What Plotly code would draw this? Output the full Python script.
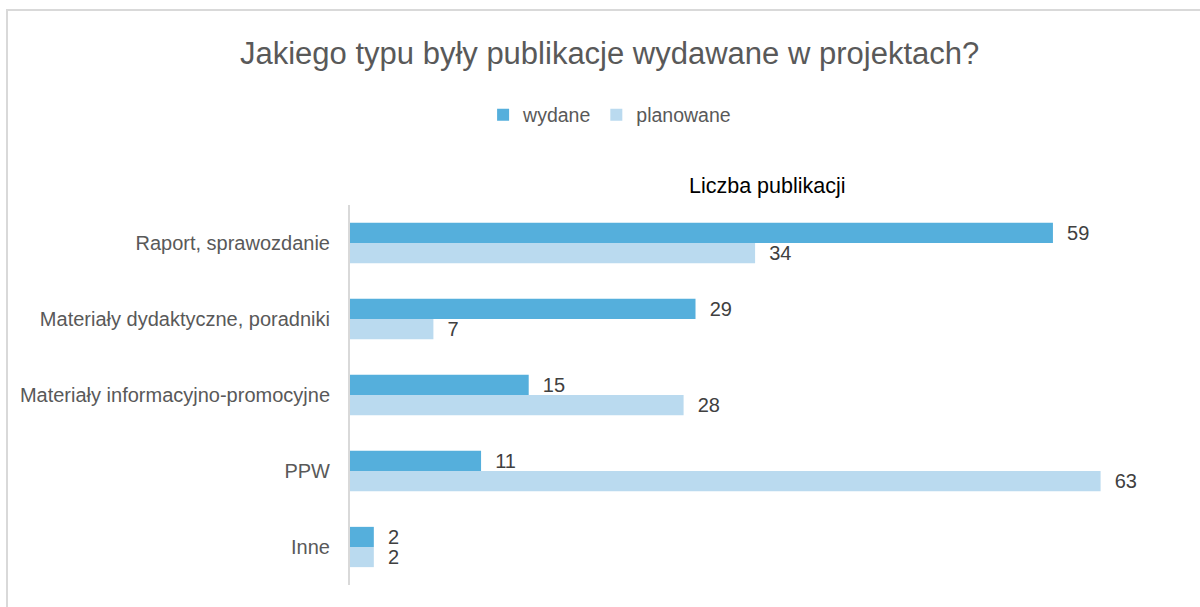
import plotly.graph_objects as go

categories = [
    "Raport, sprawozdanie",
    "Materiały dydaktyczne, poradniki",
    "Materiały informacyjno-promocyjne",
    "PPW",
    "Inne",
]
wydane = [59, 29, 15, 11, 2]
planowane = [34, 7, 28, 63, 2]

FONT = "Liberation Sans, Arial, sans-serif"
GREY = "#595959"

# plot area in pixels (used to place the frame and caption in paper coords)
W, H = 1200, 607
L, R, T, B = 350, 16, 205, 22
PW, PH = W - L - R, H - T - B


def px_x(p):
    return (p - L) / PW


def px_y(p):
    return (H - B - p) / PH


fig = go.Figure()
for name, vals, color in [
    ("wydane", wydane, "#55afdc"),
    ("planowane", planowane, "#badaef"),
]:
    fig.add_trace(go.Bar(
        name=name,
        y=categories,
        x=vals,
        orientation="h",
        marker=dict(color=color, line=dict(width=0)),
        text=vals,
        texttemplate="\u00a0\u00a0%{x}",
        textposition="outside",
        constraintext="none",
        cliponaxis=False,
        textfont=dict(family=FONT, size=20, color="#404040"),
        hoverinfo="skip",
    ))

fig.update_layout(
    width=W,
    height=H,
    paper_bgcolor="white",
    plot_bgcolor="white",
    barmode="group",
    bargap=0.47,
    bargroupgap=0,
    margin=dict(l=L, r=R, t=T, b=B),
    title=dict(
        text="Jakiego typu były publikacje wydawane w projektach?",
        x=0.508, xref="container", xanchor="center",
        y=1 - 53 / H, yref="container", yanchor="middle",
        font=dict(family=FONT, size=31, color=GREY),
    ),
    legend=dict(
        orientation="h",
        x=0.508, xref="container", xanchor="center",
        y=1 - 115 / H, yref="container", yanchor="middle",
        font=dict(family=FONT, size=19.5, color=GREY),
        traceorder="normal",
    ),
    xaxis=dict(
        range=[0, 70],
        showgrid=False,
        zeroline=False,
        showticklabels=False,
        showline=False,
        fixedrange=True,
    ),
    yaxis=dict(
        autorange="reversed",
        showgrid=False,
        showline=True,
        linecolor="#d9d9d9",
        linewidth=2,
        ticks="",
        ticklabelstandoff=14,
        tickfont=dict(family=FONT, size=20, color=GREY),
        fixedrange=True,
    ),
    font=dict(family=FONT),
)

# axis caption above the plot area
fig.add_annotation(
    text="Liczba publikacji",
    xref="paper", yref="paper",
    x=0.5, y=px_y(186),
    xanchor="center", yanchor="middle",
    showarrow=False,
    font=dict(family=FONT, size=21.5, color="#000000"),
)

# outer chart frame
fig.add_shape(
    type="rect", xref="paper", yref="paper",
    x0=px_x(7), x1=px_x(1210),
    y0=px_y(620), y1=px_y(10),
    line=dict(color="#d9d9d9", width=2),
    fillcolor="rgba(0,0,0,0)",
    layer="below",
)

fig.write_html("out.html")
